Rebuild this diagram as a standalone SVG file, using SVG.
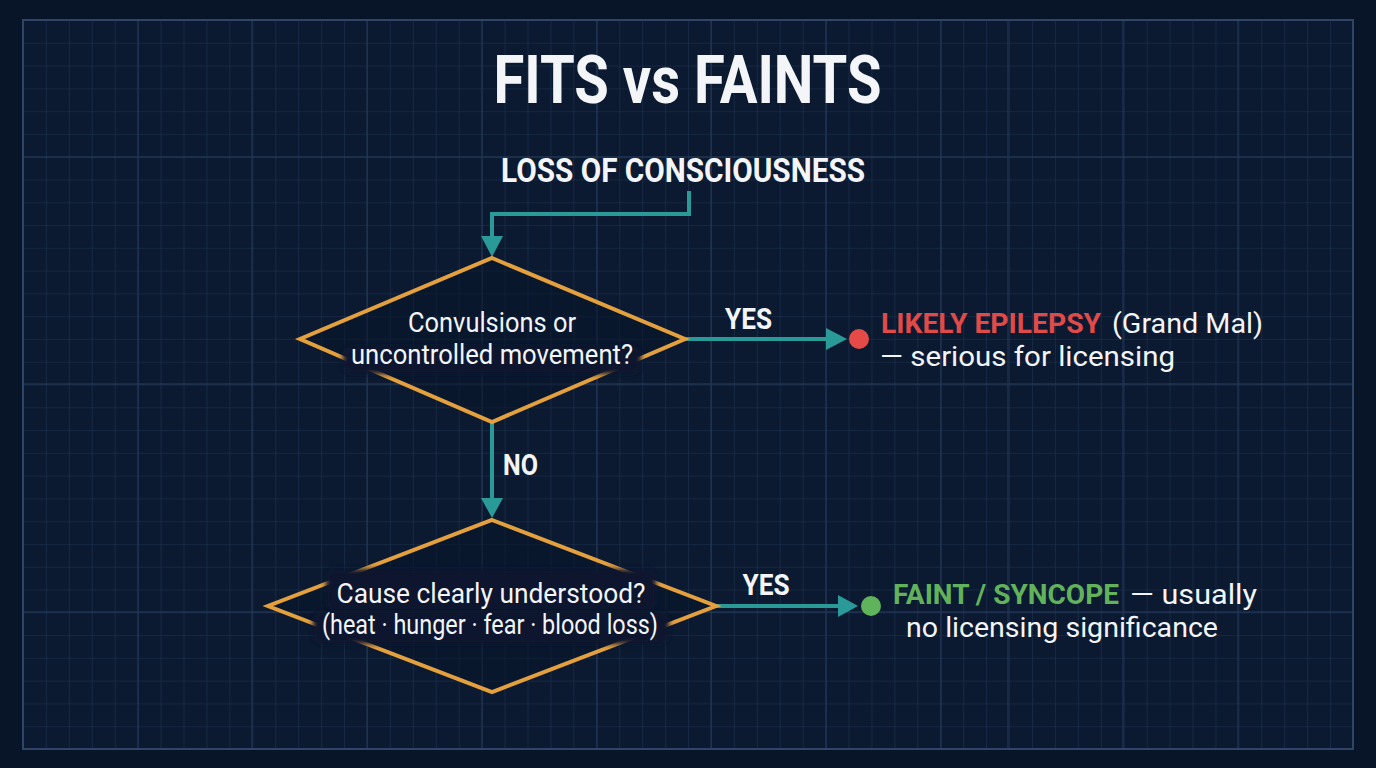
<svg xmlns="http://www.w3.org/2000/svg" width="1376" height="768" viewBox="0 0 1376 768">
<style>
.bg{fill:#081427}
.panel{fill:#0b1a30}
.major{stroke:#2b4264;stroke-width:1.3;opacity:0.6}
.frame{fill:none;stroke:#2e4568;stroke-width:2}
.conn{fill:none;stroke:#2a9a98;stroke-width:4}
.head{fill:#2a9a98}
.dia{fill:#091629;fill-opacity:0.55;stroke:#e5a03e;stroke-width:4;stroke-linejoin:miter}
.halo{fill:#0a182d}
.t{font-family:Roboto,"Liberation Sans",sans-serif;fill:#f3f5f8}
.b{font-weight:700}
.o{font-size:28.5px}
.red{fill:#e04a48;font-weight:700}
.green{fill:#62b25c;font-weight:700}
.lbl{font-family:Roboto,"Liberation Sans",sans-serif;font-weight:700;fill:#f3f5f8;font-size:30px}
</style>
<defs>
<pattern id="grid" patternUnits="userSpaceOnUse" x="23" y="20" width="22.931" height="22.781">
<path d="M0 0H22.931M0 0V22.781" fill="none" stroke="#1d3150" stroke-width="1.2"/>
</pattern>
<filter id="soft" x="-10%" y="-30%" width="120%" height="160%"><feGaussianBlur stdDeviation="2.5"/></filter>
</defs>
<rect class="bg" x="0" y="0" width="1376" height="768"/>
<g id="grid-bg">
<rect class="panel" x="23" y="20" width="1330" height="729"/>
<rect x="23" y="20" width="1330" height="729" fill="url(#grid)"/>
<path class="major" d="M138 20V749M252 20V749M367 20V749M482 20V749M597 20V749M711 20V749M826 20V749M941 20V749M1008 20V749M1123 20V749M1238 20V749M23 157H1353M23 384H1353M23 612H1353"/>
<rect class="frame" x="23" y="20" width="1330" height="729"/>
</g>
<g id="title">
<text class="t b" x="687.5" y="103" font-size="66" text-anchor="middle" textLength="388" lengthAdjust="spacingAndGlyphs">FITS vs FAINTS</text>
</g>
<g id="start">
<text class="t b" x="683" y="182" font-size="34" text-anchor="middle" textLength="364" lengthAdjust="spacingAndGlyphs">LOSS OF CONSCIOUSNESS</text>
</g>
<g id="connectors">
<path class="conn" d="M689 191V214H492V238"/>
<polygon class="head" points="481,236 503,236 492,257"/>
<path class="conn" d="M685 339H828"/>
<polygon class="head" points="826,328 826,350 847,339"/>
<text class="lbl" x="748.5" y="329" text-anchor="middle" textLength="47" lengthAdjust="spacingAndGlyphs">YES</text>
<path class="conn" d="M492 422V500"/>
<polygon class="head" points="481,498 503,498 492,518"/>
<text class="lbl" x="503" y="475" textLength="35" lengthAdjust="spacingAndGlyphs">NO</text>
<path class="conn" d="M716 606H840"/>
<polygon class="head" points="838,595 838,617 858,606"/>
<text class="lbl" x="766" y="595" text-anchor="middle" textLength="47" lengthAdjust="spacingAndGlyphs">YES</text>
</g>
<g id="decision1">
<polygon class="dia" points="492,258 685,339 492,422 300,339"/>
<rect class="halo" x="343" y="346" width="298" height="28" rx="8" filter="url(#soft)"/>
<text class="t" x="492" y="332" font-size="28" text-anchor="middle" textLength="168" lengthAdjust="spacingAndGlyphs">Convulsions or</text>
<text class="t" x="492" y="364" font-size="28" text-anchor="middle" textLength="282" lengthAdjust="spacingAndGlyphs">uncontrolled movement?</text>
</g>
<g id="decision2">
<polygon class="dia" points="492,520 716,606 492,692 268,606"/>
<rect class="halo" x="326" y="569" width="330" height="42" rx="8" filter="url(#soft)"/>
<rect class="halo" x="313" y="612" width="356" height="32" rx="8" filter="url(#soft)"/>
<text class="t" x="491" y="603" font-size="28" text-anchor="middle" textLength="309" lengthAdjust="spacingAndGlyphs">Cause clearly understood?</text>
<text class="t" x="490" y="634" font-size="27" text-anchor="middle" textLength="336" lengthAdjust="spacingAndGlyphs">(heat · hunger · fear · blood loss)</text>
</g>
<g id="outcome-epilepsy">
<circle cx="859" cy="339" r="10" fill="#e44b47"/>
<text class="t o red" x="881" y="333" textLength="220" lengthAdjust="spacingAndGlyphs">LIKELY EPILEPSY</text>
<text class="t o" x="1112" y="333" textLength="151" lengthAdjust="spacingAndGlyphs">(Grand Mal)</text>
<text class="t o" x="880" y="366" textLength="295" lengthAdjust="spacingAndGlyphs">— serious for licensing</text>
</g>
<g id="outcome-faint">
<circle cx="871" cy="606" r="10" fill="#5fb35a"/>
<text class="t o green" x="893" y="604" textLength="226" lengthAdjust="spacingAndGlyphs">FAINT / SYNCOPE</text>
<text class="t o" x="1130" y="604" textLength="127" lengthAdjust="spacingAndGlyphs">— usually</text>
<text class="t o" x="906" y="637" textLength="312" lengthAdjust="spacingAndGlyphs">no licensing significance</text>
</g>
</svg>
